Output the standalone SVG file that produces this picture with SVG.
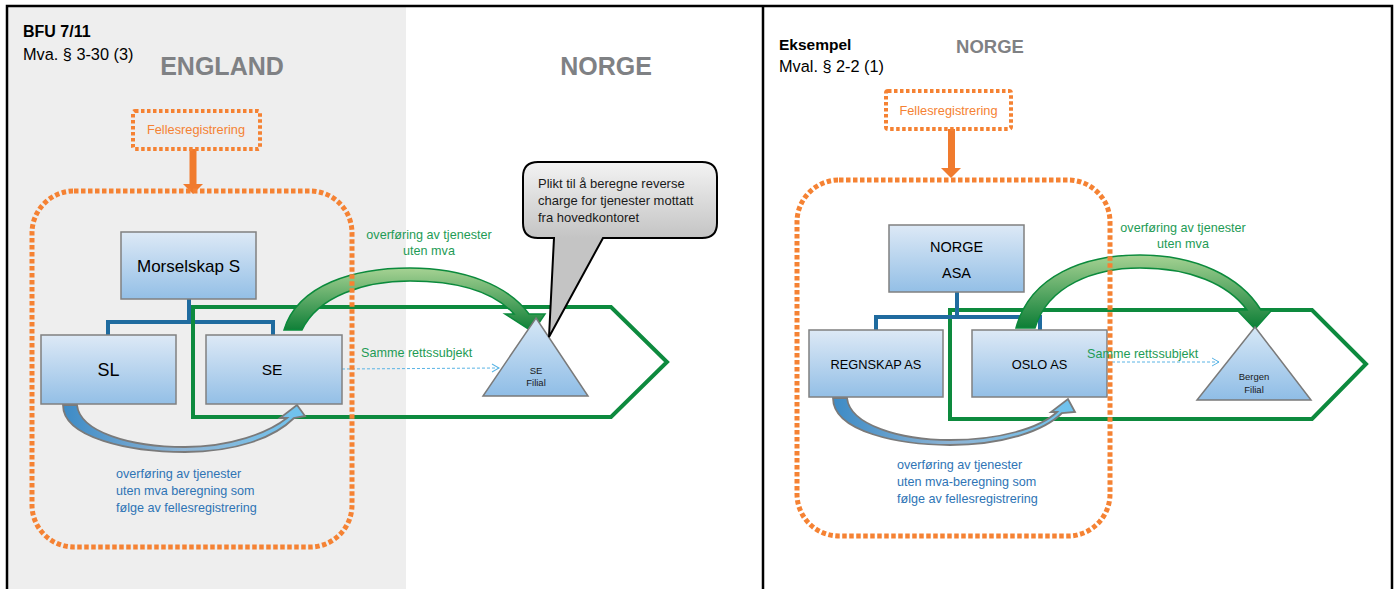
<svg xmlns="http://www.w3.org/2000/svg" width="1394" height="589" viewBox="0 0 1394 589">
<style>
text{font-family:"Liberation Sans",Arial,sans-serif}
.box{fill:url(#boxg);stroke:#808080;stroke-width:1.5}
.tri{fill:url(#trig);stroke:#7a7a7a;stroke-width:1.5}
.dot{fill:none;stroke:#f58233;stroke-width:5;stroke-dasharray:4.5 2.5}
.dotsm{fill:none;stroke:#f58233;stroke-width:4;stroke-dasharray:3.5 2.5}
.conn{fill:none;stroke:#1f6b9f;stroke-width:4}
.pent{fill:none;stroke:#0d8a3e;stroke-width:4;stroke-linejoin:miter}
.garr{fill:url(#greeng);stroke:#0b8a3c;stroke-width:1.5}
.barr{fill:url(#blueg);stroke:#7a7a7a;stroke-width:1.8}
.dash{fill:none;stroke:#5ab4e5;stroke-width:1;stroke-dasharray:3 2}
.lbl{fill:#000}
.gtxt{fill:#1e9b55;font-size:12.6px}
.btxt{fill:#2e74b5;font-size:12.6px}
.otxt{fill:#f58233;font-size:12.8px}
.country{fill:#7f8184;font-weight:bold}
.small{fill:#1a1a1a;font-size:9.5px}
</style>
<defs>
<linearGradient id="boxg" x1="0" y1="0" x2="0" y2="1">
<stop offset="0" stop-color="#dde9f6"/><stop offset="1" stop-color="#93bfe6"/>
</linearGradient>
<linearGradient id="trig" x1="0" y1="0" x2="0" y2="1">
<stop offset="0" stop-color="#d6e7f6"/><stop offset="1" stop-color="#8fbde6"/>
</linearGradient>
<linearGradient id="greeng" x1="0" y1="0" x2="0" y2="1">
<stop offset="0" stop-color="#a6d293"/><stop offset="1" stop-color="#0b7d35"/>
</linearGradient>
<linearGradient id="blueg" x1="0" y1="0" x2="1" y2="0">
<stop offset="0" stop-color="#3d8bc6"/><stop offset="0.5" stop-color="#8fb5d5"/><stop offset="1" stop-color="#6ec3ef"/>
</linearGradient>
<linearGradient id="callg" gradientUnits="userSpaceOnUse" x1="0" y1="162" x2="0" y2="238">
<stop offset="0" stop-color="#f3f3f3"/><stop offset="1" stop-color="#c4c4c4"/>
</linearGradient>
<marker id="open" markerWidth="10" markerHeight="10" refX="8" refY="5" orient="auto" markerUnits="userSpaceOnUse">
<path d="M1,1 L8,5 L1,9" fill="none" stroke="#5ab4e5" stroke-width="1"/>
</marker>
</defs>

<!-- background & frame -->
<rect x="8" y="7" width="398" height="582" fill="#eeeeee"/>
<rect x="406" y="7" width="357" height="582" fill="#ffffff"/>
<rect x="764" y="7" width="628" height="582" fill="#ffffff"/>
<path d="M7,589 V6 H1392 V589 M763,6 V589" fill="none" stroke="#000" stroke-width="2.5"/>

<!-- ================= LEFT PANEL ================= -->
<g id="left-headings">
<text x="23" y="37" font-size="16" font-weight="bold">BFU 7/11</text>
<text x="23" y="60" font-size="16.3">Mva. § 3-30 (3)</text>
<text class="country" x="222" y="75" font-size="25" text-anchor="middle">ENGLAND</text>
<text class="country" x="606" y="75" font-size="25" text-anchor="middle">NORGE</text>
</g>

<g id="connectors-left">
<path class="conn" d="M189,299 V322 M108,335 V322 H273 V335"/>
<path class="pent" d="M193,307 H611 L667,362 L611,417 H193 Z"/>
<line class="dash" x1="342" y1="369" x2="499" y2="368" marker-end="url(#open)"/>
<path class="garr" d="M284,330 C298,284 355,268 410,268 C463,268 508,285 529,314 L545,314 L533,332 L505,314 L514,314 C494,292 460,281 410,281 C365,281 318,296 302,330 Z"/>
<path class="barr" d="M63,405 C63,438 130,452 185,452 C235,452 274,438 294,418 L305,416 L297,405 L280,418 L287,418 C268,433 230,447 185,447 C130,447 80,432 77,405 Z"/>
<rect x="189.5" y="149" width="7" height="37" fill="#f07b2e"/>
<path d="M183,184 L203,184 L193,194 Z" fill="#f07b2e"/>
</g>

<g id="fellesreg-left">
<rect class="dotsm" x="133" y="111" width="127" height="38" rx="2"/>
<text class="otxt" x="196" y="134" text-anchor="middle">Fellesregistrering</text>
</g>

<g id="morselskap">
<rect class="box" x="121" y="232" width="135" height="67"/>
<text class="lbl" x="188.5" y="272" font-size="17" text-anchor="middle">Morselskap S</text>
</g>
<g id="sl">
<rect class="box" x="41" y="335" width="135" height="69"/>
<text class="lbl" x="108.5" y="376" font-size="18" text-anchor="middle">SL</text>
</g>
<g id="se">
<rect class="box" x="206" y="335" width="136" height="69"/>
<text class="lbl" x="272" y="375" font-size="15.5" text-anchor="middle">SE</text>
</g>
<g id="se-filial">
<polygon class="tri" points="536,318 588,396 483,396"/>
<text class="small" x="536" y="374" text-anchor="middle">SE</text>
<text class="small" x="536" y="386" text-anchor="middle">Filial</text>
</g>

<g id="callout">
<path d="M538,162 H702 Q717,162 717,177 V223 Q717,238 702,238 H603 L549,337 L554,238 H538 Q523,238 523,223 V177 Q523,162 538,162 Z" fill="url(#callg)" stroke="#000" stroke-width="2"/>
<text x="538" y="188" font-size="13" fill="#1a1a1a">Plikt til å beregne reverse</text>
<text x="538" y="205" font-size="13" fill="#1a1a1a">charge for tjenester mottatt</text>
<text x="538" y="222" font-size="13" fill="#1a1a1a">fra hovedkontoret</text>
</g>

<g id="fellesreg-area-left">
<rect class="dot" x="32" y="191" width="320" height="356" rx="42"/>
</g>

<g id="left-labels">
<text class="gtxt" x="429" y="239" text-anchor="middle">overføring av tjenester</text>
<text class="gtxt" x="429" y="255" text-anchor="middle">uten mva</text>
<text class="gtxt" x="361" y="357">Samme rettssubjekt</text>
<text class="btxt" x="116" y="478">overføring av tjenester</text>
<text class="btxt" x="116" y="495">uten mva beregning som</text>
<text class="btxt" x="116" y="512">følge av fellesregistrering</text>
</g>

<!-- ================= RIGHT PANEL ================= -->
<g id="right-headings">
<text x="779" y="50" font-size="15.5" font-weight="bold">Eksempel</text>
<text x="779" y="72" font-size="16.3">Mval. § 2-2 (1)</text>
<text class="country" x="990" y="53" font-size="18.5" text-anchor="middle">NORGE</text>
</g>

<g id="connectors-right">
<path class="pent" d="M950,310 H1312 L1366,364 L1312,419 H950 Z"/>
<path class="conn" d="M957,292 V317 M876,330 V317 H1040 V330"/>
<line class="dash" x1="1107" y1="362" x2="1219" y2="362" marker-end="url(#open)"/>
<path class="garr" d="M1016,328 C1030,275 1085,255 1140,255 C1195,255 1240,276 1261,310 L1272,310 L1255,329 L1237,310 L1247,310 C1228,284 1190,268 1140,268 C1095,268 1048,285 1035,328 Z"/>
<path class="barr" d="M833,398 C833,432 900,445 950,445 C1005,445 1045,430 1062,413 L1075,412 L1068,399 L1051,412 L1057,412 C1040,428 1000,440 950,440 C900,440 850,425 847,398 Z"/>
<rect x="948" y="129" width="7" height="40" fill="#f07b2e"/>
<path d="M941,168 L961,168 L951,178 Z" fill="#f07b2e"/>
</g>

<g id="fellesreg-right">
<rect class="dotsm" x="886" y="91" width="125" height="38" rx="2"/>
<text class="otxt" x="948.5" y="115" text-anchor="middle">Fellesregistrering</text>
</g>

<g id="norge-asa">
<rect class="box" x="889" y="225" width="135" height="67"/>
<text class="lbl" x="956.5" y="252" font-size="14.5" text-anchor="middle">NORGE</text>
<text class="lbl" x="956.5" y="278" font-size="14.5" text-anchor="middle">ASA</text>
</g>
<g id="regnskap">
<rect class="box" x="809" y="330" width="134" height="67"/>
<text class="lbl" x="876" y="369" font-size="12.8" text-anchor="middle">REGNSKAP AS</text>
</g>
<g id="oslo">
<rect class="box" x="972" y="330" width="135" height="67"/>
<text class="lbl" x="1039.5" y="369" font-size="12.8" text-anchor="middle">OSLO AS</text>
</g>
<g id="bergen-filial">
<polygon class="tri" points="1255,327 1311,400 1197,400"/>
<text class="small" x="1254" y="380" text-anchor="middle">Bergen</text>
<text class="small" x="1254" y="393" text-anchor="middle">Filial</text>
</g>

<g id="fellesreg-area-right">
<rect class="dot" x="797" y="180" width="313" height="356" rx="42"/>
</g>

<g id="right-labels">
<text class="gtxt" x="1183" y="232" text-anchor="middle">overføring av tjenester</text>
<text class="gtxt" x="1183" y="248" text-anchor="middle">uten mva</text>
<text class="gtxt" x="1087" y="358">Samme rettssubjekt</text>
<text class="btxt" x="897" y="469">overføring av tjenester</text>
<text class="btxt" x="897" y="486">uten mva-beregning som</text>
<text class="btxt" x="897" y="503">følge av fellesregistrering</text>
</g>
</svg>
